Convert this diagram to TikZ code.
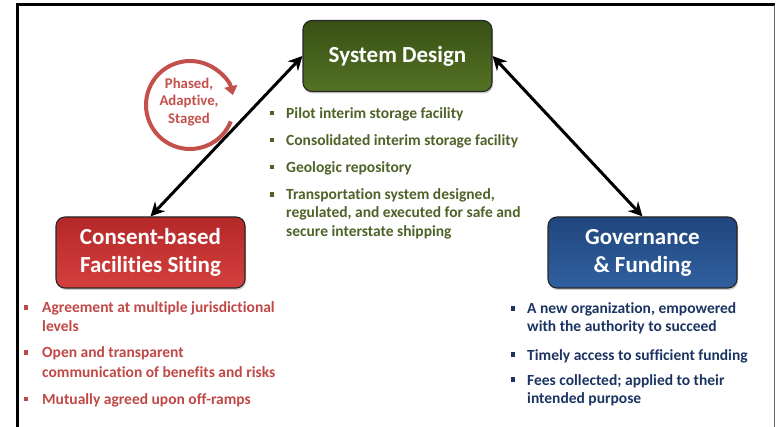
\documentclass[tikz,border=0pt]{standalone}
\usepackage{fontspec}
\setmainfont{Carlito}[Ligatures=NoCommon]
\usetikzlibrary{arrows.meta,shadows}
\definecolor{sdtop}{RGB}{56,80,20}
\definecolor{sdbot}{RGB}{84,114,36}
\definecolor{cstop}{RGB}{180,40,40}
\definecolor{csbot}{RGB}{212,64,62}
\definecolor{gvtop}{RGB}{32,70,125}
\definecolor{gvbot}{RGB}{48,96,160}
\definecolor{gtxt}{RGB}{79,98,40}
\definecolor{rtxt}{RGB}{192,72,70}
\definecolor{btxt}{RGB}{28,52,98}
\definecolor{cyccol}{RGB}{196,80,76}
\tikzset{
  box/.style={rectangle, rounded corners=9pt, draw=black!85, line width=1.1pt,
    minimum width=189pt, minimum height=71pt, inner sep=0pt, align=center,
    text=white, font=\fontsize{23}{28}\selectfont\bfseries,
    drop shadow={shadow xshift=1pt, shadow yshift=-2pt, fill=black!40, opacity=0.5}},
  dbl/.style={line width=3pt, black, {Stealth[length=14pt,width=14pt]}-{Stealth[length=14pt,width=14pt]}},
  itm/.style={anchor=base west, inner sep=0pt, font=\fontsize{15.5}{18}\selectfont\bfseries},
  sq/.style={rectangle, inner sep=0pt, minimum size=4.5pt}
}
\begin{document}
\begin{tikzpicture}[x=1pt,y=-1pt]
\useasboundingbox (0,0) rectangle (776,427);
% frame
\draw[line width=3pt] (17,427) -- (17,5) -- (775,5);
\draw[line width=1pt, black!60] (774,5) -- (774,427);

% boxes
\node[box, top color=sdtop, bottom color=sdbot] (sd) at (397.5,56) {System Design};
\node[box, top color=cstop, bottom color=csbot] (cs) at (150.5,252.5) {Consent-based\\Facilities Siting};
\node[box, top color=gvtop, bottom color=gvbot] (gv) at (642.5,252.5) {Governance\\\& Funding};

% connectors
\draw[dbl] (sd.west) -- (cs.north);
\draw[dbl] (sd.east) -- (gv.north);

% cycle
\draw[line width=4pt, cyccol, -{Triangle[length=9pt,width=13pt]}] (190,105) ++(22:44) arc[start angle=22, end angle=347, radius=44];
\node[align=center, text=cyccol, inner sep=0pt, font=\fontsize{14.8}{17.5}\selectfont\bfseries] (cyc) at (189,102) {Phased,\\Adaptive,\\Staged};

% green bullets
\begin{scope}[text=gtxt]
\node[itm] (g1) at (286,118.5) {Pilot interim storage facility};
\node[itm] (g2) at (286,145.5) {Consolidated interim storage facility};
\node[itm] (g3) at (286,172.5) {Geologic repository};
\node[itm] (g4) at (286,200) {Transportation system designed,};
\node[itm] (g5) at (286,218) {regulated, and executed for safe and};
\node[itm] (g6) at (286,236.5) {secure interstate shipping};
\end{scope}
\foreach \yy/\nm in {113/gb1,140/gb2,167/gb3,194.5/gb4}
  \node[sq, fill=gtxt] (\nm) at (272,\yy) {};

% red bullets
\begin{scope}[text=rtxt]
\node[itm] (r1) at (42,313) {Agreement at multiple jurisdictional};
\node[itm] (r2) at (42,332) {levels};
\node[itm] (r3) at (42,358) {Open and transparent};
\node[itm] (r4) at (42,377.5) {communication of benefits and risks};
\node[itm] (r5) at (42,404.5) {Mutually agreed upon off-ramps};
\end{scope}
\foreach \yy/\nm in {307.5/rb1,352.5/rb2,399/rb3}
  \node[sq, fill=rtxt] (\nm) at (26,\yy) {};

% blue bullets
\begin{scope}[text=btxt]
\node[itm] (b1) at (527,314) {A new organization, empowered};
\node[itm] (b2) at (527,332) {with the authority to succeed};
\node[itm] (b3) at (527,360) {Timely access to sufficient funding};
\node[itm] (b4) at (527,385) {Fees collected; applied to their};
\node[itm] (b5) at (527,403) {intended purpose};
\end{scope}
\foreach \yy/\nm in {308.5/bb1,354.5/bb2,379.5/bb3}
  \node[sq, fill=btxt] (\nm) at (513,\yy) {};
\end{tikzpicture}
\end{document}
